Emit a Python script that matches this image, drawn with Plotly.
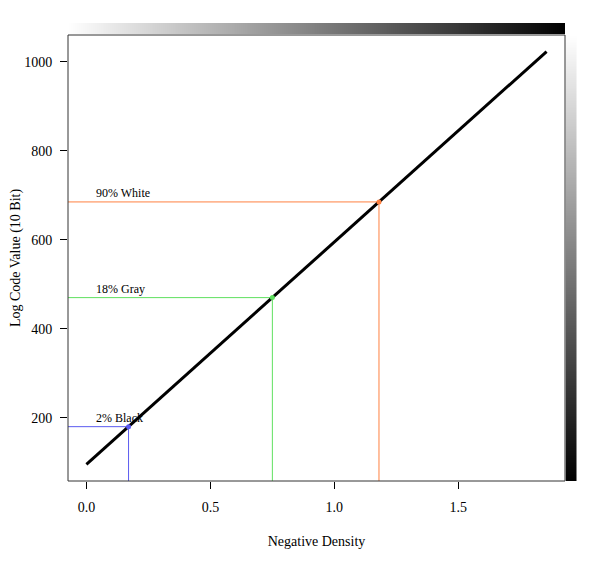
import plotly.graph_objects as go
import numpy as np

# Cineon log curve data
density = [0.0, 1.856]
code_value = [95, 1023]

ref_labels = ["2% Black", "18% Gray", "90% White"]
ref_density = [0.17, 0.75, 1.18]
ref_code = [180, 470, 685]
ref_colors = ["#5b5bf0", "#5fe05f", "#ff8040"]

x_ticks = [0.0, 0.5, 1.0, 1.5]
x_ticklabels = ["0.0", "0.5", "1.0", "1.5"]
y_ticks = [200, 400, 600, 800, 1000]

# R-style 4% padding
xpad = (max(density) - min(density)) * 0.04
ypad = (max(code_value) - min(code_value)) * 0.04
xr = [min(density) - xpad, max(density) + xpad]
yr = [min(code_value) - ypad, max(code_value) + ypad]

W, H = 600, 567
OFF = 8  # page body margin
L, R, T, B = 68 - OFF, 577 - OFF, 23 - OFF, 481 - OFF
pw, ph = R - L, B - T
box_right = (565 - OFF - L) / pw
box_top = (B - (35 - OFF)) / ph

font = "Liberation Serif"
fig = go.Figure()

for lab, d, c, col in zip(ref_labels, ref_density, ref_code, ref_colors):
    fig.add_trace(go.Scatter(x=[xr[0], d, d], y=[c, c, yr[0]], mode="lines",
                             line=dict(color=col, width=1), hoverinfo="skip",
                             showlegend=False))
fig.add_trace(go.Scatter(x=density, y=code_value, mode="lines",
                         line=dict(color="black", width=3), showlegend=False))
fig.add_trace(go.Scatter(x=ref_density, y=ref_code, mode="markers",
                         marker=dict(color=ref_colors, size=5), showlegend=False))
for lab, d, c, col in zip(ref_labels, ref_density, ref_code, ref_colors):
    fig.add_annotation(x=0.03, y=c + 20, text=lab, showarrow=False,
                       xanchor="left", yanchor="middle",
                       font=dict(family=font, size=12, color="black"))

# gradient bars
grad = list(np.linspace(0, 1, 64))
fig.add_trace(go.Heatmap(z=[grad], x=grad, xaxis="x2", yaxis="y2",
                         colorscale=[[0, "#ffffff"], [1, "#000000"]],
                         showscale=False, zsmooth="best", hoverinfo="skip"))
fig.add_trace(go.Heatmap(z=[[v] for v in grad], y=grad, xaxis="x3", yaxis="y3",
                         colorscale=[[0, "#000000"], [1, "#ffffff"]],
                         showscale=False, zsmooth="best", hoverinfo="skip"))

axis_common = dict(showgrid=False, zeroline=False, ticks="outside", ticklen=7,
                   tickcolor="black", tickfont=dict(family=font, size=14, color="black"),
                   showline=False, automargin=False)
fig.update_layout(
    width=W, height=H,
    margin=dict(l=L, r=W - R, t=T, b=H - B),
    plot_bgcolor="white", paper_bgcolor="white",
    xaxis=dict(domain=[0, box_right], range=xr, tickvals=x_ticks, ticktext=x_ticklabels,
               ticklabelstandoff=6,
               title=dict(text="Negative Density", font=dict(family=font, size=14, color="black"), standoff=22),
               anchor="y", **axis_common),
    yaxis=dict(domain=[0, box_top], range=yr, tickvals=y_ticks, ticklabelstandoff=5,
               title=dict(text="Log Code Value (10 Bit)", font=dict(family=font, size=14, color="black"), standoff=10),
               anchor="x", **axis_common),
    xaxis2=dict(domain=[0, box_right], visible=False, anchor="y2", range=[0, 1]),
    yaxis2=dict(domain=[box_top + 0.002, 1], visible=False, anchor="x2"),
    xaxis3=dict(domain=[box_right + 0.001, 1], visible=False, anchor="y3"),
    yaxis3=dict(domain=[0, box_top], visible=False, anchor="x3", range=[0, 1]),
)
fig.add_shape(type="rect", xref="x domain", yref="y domain", x0=0, x1=1, y0=0, y1=1,
              line=dict(color="#333333", width=1))
fig.write_html("out.html")
